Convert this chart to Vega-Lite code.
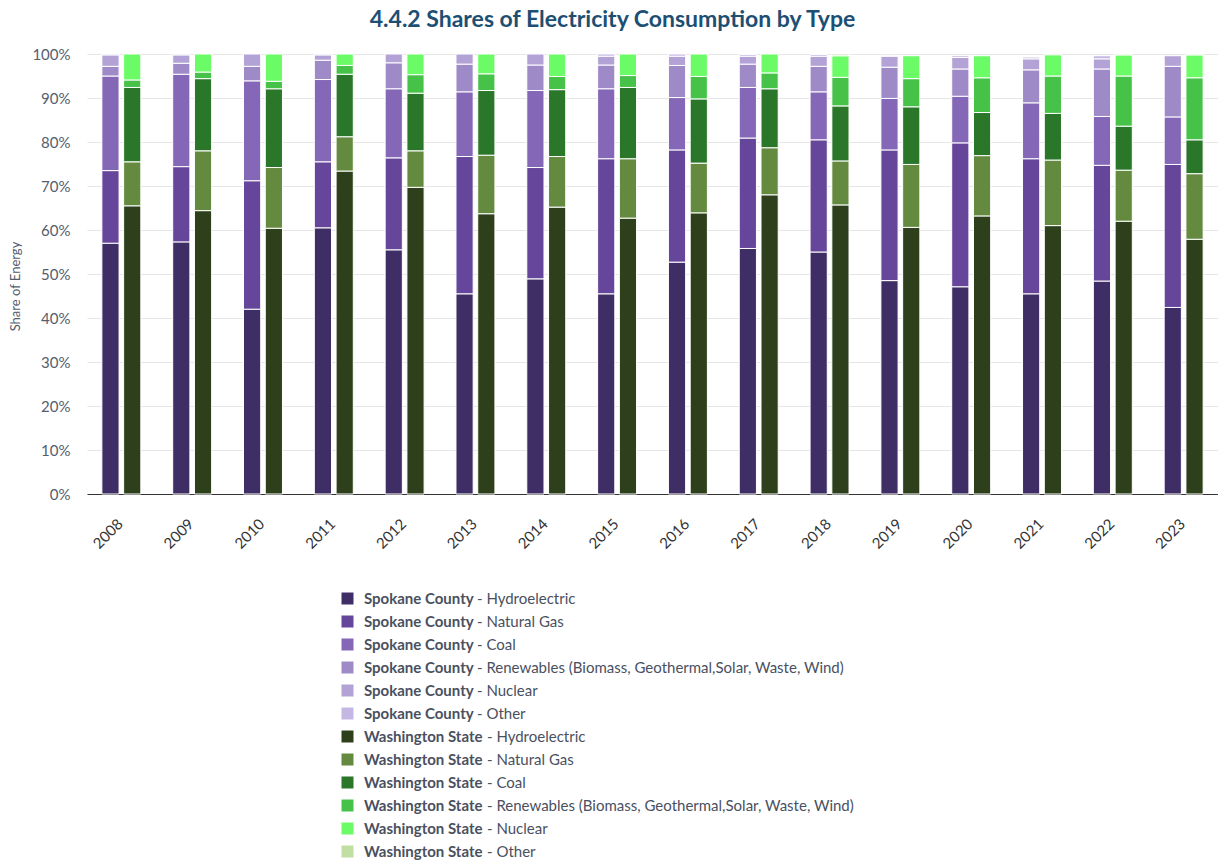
{
  "$schema": "https://vega.github.io/schema/vega-lite/v6.json",
  "width": 1131,
  "height": 440,
  "autosize": {"type": "none"},
  "padding": {"left": 87, "top": 54, "right": 0, "bottom": 370},
  "background": "white",
  "config": {
    "font": "Lato",
    "view": {"stroke": null}
  },
  "title": {
    "text": "4.4.2 Shares of Electricity Consumption by Type",
    "fontSize": 23,
    "fontWeight": "bold",
    "color": "#1d4f73",
    "font": "Lato",
    "anchor": "middle",
    "dx": -40,
    "offset": 15
  },
  "datasets": {
    "stackOrder": [
      {"type": "Hydroelectric", "rank": 1},
      {"type": "Natural Gas", "rank": 2},
      {"type": "Coal", "rank": 3},
      {"type": "Renewables (Biomass, Geothermal,Solar, Waste, Wind)", "rank": 4},
      {"type": "Nuclear", "rank": 5},
      {"type": "Other", "rank": 6}
    ]
  },
  "data": {
    "values": [
      {"year": "2008", "region": "Spokane County", "type": "Hydroelectric", "share": 57.0},
      {"year": "2008", "region": "Spokane County", "type": "Natural Gas", "share": 16.5},
      {"year": "2008", "region": "Spokane County", "type": "Coal", "share": 21.5},
      {"year": "2008", "region": "Spokane County", "type": "Renewables (Biomass, Geothermal,Solar, Waste, Wind)", "share": 2.2},
      {"year": "2008", "region": "Spokane County", "type": "Nuclear", "share": 2.6},
      {"year": "2008", "region": "Spokane County", "type": "Other", "share": 0.2},
      {"year": "2008", "region": "Washington State", "type": "Hydroelectric", "share": 65.5},
      {"year": "2008", "region": "Washington State", "type": "Natural Gas", "share": 10.0},
      {"year": "2008", "region": "Washington State", "type": "Coal", "share": 16.9},
      {"year": "2008", "region": "Washington State", "type": "Renewables (Biomass, Geothermal,Solar, Waste, Wind)", "share": 1.7},
      {"year": "2008", "region": "Washington State", "type": "Nuclear", "share": 5.9},

      {"year": "2009", "region": "Spokane County", "type": "Hydroelectric", "share": 57.3},
      {"year": "2009", "region": "Spokane County", "type": "Natural Gas", "share": 17.1},
      {"year": "2009", "region": "Spokane County", "type": "Coal", "share": 21.0},
      {"year": "2009", "region": "Spokane County", "type": "Renewables (Biomass, Geothermal,Solar, Waste, Wind)", "share": 2.5},
      {"year": "2009", "region": "Spokane County", "type": "Nuclear", "share": 1.9},
      {"year": "2009", "region": "Spokane County", "type": "Other", "share": 0.2},
      {"year": "2009", "region": "Washington State", "type": "Hydroelectric", "share": 64.4},
      {"year": "2009", "region": "Washington State", "type": "Natural Gas", "share": 13.6},
      {"year": "2009", "region": "Washington State", "type": "Coal", "share": 16.4},
      {"year": "2009", "region": "Washington State", "type": "Renewables (Biomass, Geothermal,Solar, Waste, Wind)", "share": 1.5},
      {"year": "2009", "region": "Washington State", "type": "Nuclear", "share": 4.1},

      {"year": "2010", "region": "Spokane County", "type": "Hydroelectric", "share": 42.0},
      {"year": "2010", "region": "Spokane County", "type": "Natural Gas", "share": 29.2},
      {"year": "2010", "region": "Spokane County", "type": "Coal", "share": 22.7},
      {"year": "2010", "region": "Spokane County", "type": "Renewables (Biomass, Geothermal,Solar, Waste, Wind)", "share": 3.3},
      {"year": "2010", "region": "Spokane County", "type": "Nuclear", "share": 2.8},
      {"year": "2010", "region": "Washington State", "type": "Hydroelectric", "share": 60.4},
      {"year": "2010", "region": "Washington State", "type": "Natural Gas", "share": 13.8},
      {"year": "2010", "region": "Washington State", "type": "Coal", "share": 17.9},
      {"year": "2010", "region": "Washington State", "type": "Renewables (Biomass, Geothermal,Solar, Waste, Wind)", "share": 1.7},
      {"year": "2010", "region": "Washington State", "type": "Nuclear", "share": 6.2},

      {"year": "2011", "region": "Spokane County", "type": "Hydroelectric", "share": 60.5},
      {"year": "2011", "region": "Spokane County", "type": "Natural Gas", "share": 15.0},
      {"year": "2011", "region": "Spokane County", "type": "Coal", "share": 18.7},
      {"year": "2011", "region": "Spokane County", "type": "Renewables (Biomass, Geothermal,Solar, Waste, Wind)", "share": 4.4},
      {"year": "2011", "region": "Spokane County", "type": "Nuclear", "share": 1.2},
      {"year": "2011", "region": "Spokane County", "type": "Other", "share": 0.2},
      {"year": "2011", "region": "Washington State", "type": "Hydroelectric", "share": 73.4},
      {"year": "2011", "region": "Washington State", "type": "Natural Gas", "share": 7.8},
      {"year": "2011", "region": "Washington State", "type": "Coal", "share": 14.2},
      {"year": "2011", "region": "Washington State", "type": "Renewables (Biomass, Geothermal,Solar, Waste, Wind)", "share": 2.0},
      {"year": "2011", "region": "Washington State", "type": "Nuclear", "share": 2.6},

      {"year": "2012", "region": "Spokane County", "type": "Hydroelectric", "share": 55.5},
      {"year": "2012", "region": "Spokane County", "type": "Natural Gas", "share": 20.9},
      {"year": "2012", "region": "Spokane County", "type": "Coal", "share": 15.7},
      {"year": "2012", "region": "Spokane County", "type": "Renewables (Biomass, Geothermal,Solar, Waste, Wind)", "share": 5.9},
      {"year": "2012", "region": "Spokane County", "type": "Nuclear", "share": 2.0},
      {"year": "2012", "region": "Washington State", "type": "Hydroelectric", "share": 69.7},
      {"year": "2012", "region": "Washington State", "type": "Natural Gas", "share": 8.3},
      {"year": "2012", "region": "Washington State", "type": "Coal", "share": 13.1},
      {"year": "2012", "region": "Washington State", "type": "Renewables (Biomass, Geothermal,Solar, Waste, Wind)", "share": 4.2},
      {"year": "2012", "region": "Washington State", "type": "Nuclear", "share": 4.7},

      {"year": "2013", "region": "Spokane County", "type": "Hydroelectric", "share": 45.5},
      {"year": "2013", "region": "Spokane County", "type": "Natural Gas", "share": 31.2},
      {"year": "2013", "region": "Spokane County", "type": "Coal", "share": 14.7},
      {"year": "2013", "region": "Spokane County", "type": "Renewables (Biomass, Geothermal,Solar, Waste, Wind)", "share": 6.3},
      {"year": "2013", "region": "Spokane County", "type": "Nuclear", "share": 2.3},
      {"year": "2013", "region": "Washington State", "type": "Hydroelectric", "share": 63.7},
      {"year": "2013", "region": "Washington State", "type": "Natural Gas", "share": 13.3},
      {"year": "2013", "region": "Washington State", "type": "Coal", "share": 14.7},
      {"year": "2013", "region": "Washington State", "type": "Renewables (Biomass, Geothermal,Solar, Waste, Wind)", "share": 3.8},
      {"year": "2013", "region": "Washington State", "type": "Nuclear", "share": 4.5},

      {"year": "2014", "region": "Spokane County", "type": "Hydroelectric", "share": 48.9},
      {"year": "2014", "region": "Spokane County", "type": "Natural Gas", "share": 25.3},
      {"year": "2014", "region": "Spokane County", "type": "Coal", "share": 17.5},
      {"year": "2014", "region": "Spokane County", "type": "Renewables (Biomass, Geothermal,Solar, Waste, Wind)", "share": 5.8},
      {"year": "2014", "region": "Spokane County", "type": "Nuclear", "share": 2.5},
      {"year": "2014", "region": "Washington State", "type": "Hydroelectric", "share": 65.2},
      {"year": "2014", "region": "Washington State", "type": "Natural Gas", "share": 11.5},
      {"year": "2014", "region": "Washington State", "type": "Coal", "share": 15.2},
      {"year": "2014", "region": "Washington State", "type": "Renewables (Biomass, Geothermal,Solar, Waste, Wind)", "share": 3.0},
      {"year": "2014", "region": "Washington State", "type": "Nuclear", "share": 5.1},

      {"year": "2015", "region": "Spokane County", "type": "Hydroelectric", "share": 45.5},
      {"year": "2015", "region": "Spokane County", "type": "Natural Gas", "share": 30.7},
      {"year": "2015", "region": "Spokane County", "type": "Coal", "share": 15.9},
      {"year": "2015", "region": "Spokane County", "type": "Renewables (Biomass, Geothermal,Solar, Waste, Wind)", "share": 5.4},
      {"year": "2015", "region": "Spokane County", "type": "Nuclear", "share": 2.0},
      {"year": "2015", "region": "Spokane County", "type": "Other", "share": 0.5},
      {"year": "2015", "region": "Washington State", "type": "Hydroelectric", "share": 62.7},
      {"year": "2015", "region": "Washington State", "type": "Natural Gas", "share": 13.5},
      {"year": "2015", "region": "Washington State", "type": "Coal", "share": 16.2},
      {"year": "2015", "region": "Washington State", "type": "Renewables (Biomass, Geothermal,Solar, Waste, Wind)", "share": 2.7},
      {"year": "2015", "region": "Washington State", "type": "Nuclear", "share": 4.9},

      {"year": "2016", "region": "Spokane County", "type": "Hydroelectric", "share": 52.7},
      {"year": "2016", "region": "Spokane County", "type": "Natural Gas", "share": 25.5},
      {"year": "2016", "region": "Spokane County", "type": "Coal", "share": 11.9},
      {"year": "2016", "region": "Spokane County", "type": "Renewables (Biomass, Geothermal,Solar, Waste, Wind)", "share": 7.3},
      {"year": "2016", "region": "Spokane County", "type": "Nuclear", "share": 2.1},
      {"year": "2016", "region": "Spokane County", "type": "Other", "share": 0.5},
      {"year": "2016", "region": "Washington State", "type": "Hydroelectric", "share": 63.9},
      {"year": "2016", "region": "Washington State", "type": "Natural Gas", "share": 11.3},
      {"year": "2016", "region": "Washington State", "type": "Coal", "share": 14.6},
      {"year": "2016", "region": "Washington State", "type": "Renewables (Biomass, Geothermal,Solar, Waste, Wind)", "share": 5.1},
      {"year": "2016", "region": "Washington State", "type": "Nuclear", "share": 5.1},

      {"year": "2017", "region": "Spokane County", "type": "Hydroelectric", "share": 55.8},
      {"year": "2017", "region": "Spokane County", "type": "Natural Gas", "share": 25.1},
      {"year": "2017", "region": "Spokane County", "type": "Coal", "share": 11.5},
      {"year": "2017", "region": "Spokane County", "type": "Renewables (Biomass, Geothermal,Solar, Waste, Wind)", "share": 5.3},
      {"year": "2017", "region": "Spokane County", "type": "Nuclear", "share": 1.8},
      {"year": "2017", "region": "Spokane County", "type": "Other", "share": 0.4},
      {"year": "2017", "region": "Washington State", "type": "Hydroelectric", "share": 68.0},
      {"year": "2017", "region": "Washington State", "type": "Natural Gas", "share": 10.7},
      {"year": "2017", "region": "Washington State", "type": "Coal", "share": 13.4},
      {"year": "2017", "region": "Washington State", "type": "Renewables (Biomass, Geothermal,Solar, Waste, Wind)", "share": 3.6},
      {"year": "2017", "region": "Washington State", "type": "Nuclear", "share": 4.3},

      {"year": "2018", "region": "Spokane County", "type": "Hydroelectric", "share": 55.0},
      {"year": "2018", "region": "Spokane County", "type": "Natural Gas", "share": 25.5},
      {"year": "2018", "region": "Spokane County", "type": "Coal", "share": 10.9},
      {"year": "2018", "region": "Spokane County", "type": "Renewables (Biomass, Geothermal,Solar, Waste, Wind)", "share": 5.8},
      {"year": "2018", "region": "Spokane County", "type": "Nuclear", "share": 2.3},
      {"year": "2018", "region": "Spokane County", "type": "Other", "share": 0.4},
      {"year": "2018", "region": "Washington State", "type": "Hydroelectric", "share": 65.7},
      {"year": "2018", "region": "Washington State", "type": "Natural Gas", "share": 10.0},
      {"year": "2018", "region": "Washington State", "type": "Coal", "share": 12.5},
      {"year": "2018", "region": "Washington State", "type": "Renewables (Biomass, Geothermal,Solar, Waste, Wind)", "share": 6.5},
      {"year": "2018", "region": "Washington State", "type": "Nuclear", "share": 4.9},
      {"year": "2018", "region": "Washington State", "type": "Other", "share": 0.4},

      {"year": "2019", "region": "Spokane County", "type": "Hydroelectric", "share": 48.5},
      {"year": "2019", "region": "Spokane County", "type": "Natural Gas", "share": 29.7},
      {"year": "2019", "region": "Spokane County", "type": "Coal", "share": 11.7},
      {"year": "2019", "region": "Spokane County", "type": "Renewables (Biomass, Geothermal,Solar, Waste, Wind)", "share": 7.1},
      {"year": "2019", "region": "Spokane County", "type": "Nuclear", "share": 2.5},
      {"year": "2019", "region": "Spokane County", "type": "Other", "share": 0.2},
      {"year": "2019", "region": "Washington State", "type": "Hydroelectric", "share": 60.6},
      {"year": "2019", "region": "Washington State", "type": "Natural Gas", "share": 14.3},
      {"year": "2019", "region": "Washington State", "type": "Coal", "share": 13.1},
      {"year": "2019", "region": "Washington State", "type": "Renewables (Biomass, Geothermal,Solar, Waste, Wind)", "share": 6.4},
      {"year": "2019", "region": "Washington State", "type": "Nuclear", "share": 5.2},

      {"year": "2020", "region": "Spokane County", "type": "Hydroelectric", "share": 47.1},
      {"year": "2020", "region": "Spokane County", "type": "Natural Gas", "share": 32.7},
      {"year": "2020", "region": "Spokane County", "type": "Coal", "share": 10.6},
      {"year": "2020", "region": "Spokane County", "type": "Renewables (Biomass, Geothermal,Solar, Waste, Wind)", "share": 6.2},
      {"year": "2020", "region": "Spokane County", "type": "Nuclear", "share": 2.6},
      {"year": "2020", "region": "Spokane County", "type": "Other", "share": 0.4},
      {"year": "2020", "region": "Washington State", "type": "Hydroelectric", "share": 63.2},
      {"year": "2020", "region": "Washington State", "type": "Natural Gas", "share": 13.7},
      {"year": "2020", "region": "Washington State", "type": "Coal", "share": 9.8},
      {"year": "2020", "region": "Washington State", "type": "Renewables (Biomass, Geothermal,Solar, Waste, Wind)", "share": 7.9},
      {"year": "2020", "region": "Washington State", "type": "Nuclear", "share": 5.0},

      {"year": "2021", "region": "Spokane County", "type": "Hydroelectric", "share": 45.5},
      {"year": "2021", "region": "Spokane County", "type": "Natural Gas", "share": 30.7},
      {"year": "2021", "region": "Spokane County", "type": "Coal", "share": 12.7},
      {"year": "2021", "region": "Spokane County", "type": "Renewables (Biomass, Geothermal,Solar, Waste, Wind)", "share": 7.5},
      {"year": "2021", "region": "Spokane County", "type": "Nuclear", "share": 2.5},
      {"year": "2021", "region": "Spokane County", "type": "Other", "share": 0.4},
      {"year": "2021", "region": "Washington State", "type": "Hydroelectric", "share": 61.0},
      {"year": "2021", "region": "Washington State", "type": "Natural Gas", "share": 14.9},
      {"year": "2021", "region": "Washington State", "type": "Coal", "share": 10.6},
      {"year": "2021", "region": "Washington State", "type": "Renewables (Biomass, Geothermal,Solar, Waste, Wind)", "share": 8.5},
      {"year": "2021", "region": "Washington State", "type": "Nuclear", "share": 4.8},

      {"year": "2022", "region": "Spokane County", "type": "Hydroelectric", "share": 48.4},
      {"year": "2022", "region": "Spokane County", "type": "Natural Gas", "share": 26.3},
      {"year": "2022", "region": "Spokane County", "type": "Coal", "share": 11.1},
      {"year": "2022", "region": "Spokane County", "type": "Renewables (Biomass, Geothermal,Solar, Waste, Wind)", "share": 10.8},
      {"year": "2022", "region": "Spokane County", "type": "Nuclear", "share": 2.3},
      {"year": "2022", "region": "Spokane County", "type": "Other", "share": 0.7},
      {"year": "2022", "region": "Washington State", "type": "Hydroelectric", "share": 62.0},
      {"year": "2022", "region": "Washington State", "type": "Natural Gas", "share": 11.6},
      {"year": "2022", "region": "Washington State", "type": "Coal", "share": 10.0},
      {"year": "2022", "region": "Washington State", "type": "Renewables (Biomass, Geothermal,Solar, Waste, Wind)", "share": 11.4},
      {"year": "2022", "region": "Washington State", "type": "Nuclear", "share": 4.8},
      {"year": "2022", "region": "Washington State", "type": "Other", "share": 0.2},

      {"year": "2023", "region": "Spokane County", "type": "Hydroelectric", "share": 42.4},
      {"year": "2023", "region": "Spokane County", "type": "Natural Gas", "share": 32.5},
      {"year": "2023", "region": "Spokane County", "type": "Coal", "share": 10.8},
      {"year": "2023", "region": "Spokane County", "type": "Renewables (Biomass, Geothermal,Solar, Waste, Wind)", "share": 11.5},
      {"year": "2023", "region": "Spokane County", "type": "Nuclear", "share": 2.4},
      {"year": "2023", "region": "Washington State", "type": "Hydroelectric", "share": 57.9},
      {"year": "2023", "region": "Washington State", "type": "Natural Gas", "share": 14.9},
      {"year": "2023", "region": "Washington State", "type": "Coal", "share": 7.7},
      {"year": "2023", "region": "Washington State", "type": "Renewables (Biomass, Geothermal,Solar, Waste, Wind)", "share": 14.1},
      {"year": "2023", "region": "Washington State", "type": "Nuclear", "share": 5.2},
      {"year": "2023", "region": "Washington State", "type": "Other", "share": 0.2}
    ]
  },
  "transform": [
    {
      "lookup": "type",
      "from": {"data": {"name": "stackOrder"}, "key": "type", "fields": ["rank", "type"]},
      "as": ["rank", "typeName"]
    }
  ],
  "encoding": {
    "x": {
      "field": "year",
      "type": "ordinal",
      "title": null,
      "scale": {"paddingInner": 0.45, "paddingOuter": 0.21},
      "axis": {
        "labelAngle": -45,
        "labelAlign": "right",
        "labelBaseline": "middle",
        "labelFontSize": 15,
        "labelColor": "#333333",
        "labelPadding": 27,
        "labelOffset": -1,
        "ticks": false,
        "domainColor": "#333333",
        "domainWidth": 1
      }
    },
    "xOffset": {
      "field": "region",
      "type": "nominal",
      "scale": {"domain": ["Spokane County", "Washington State"], "paddingInner": 0.21, "paddingOuter": 0}
    },
    "y": {
      "field": "share",
      "type": "quantitative",
      "stack": "zero",
      "title": "Share of Energy",
      "scale": {"domain": [0, 100], "nice": false},
      "axis": {
        "values": [0, 10, 20, 30, 40, 50, 60, 70, 80, 90, 100],
        "labelExpr": "datum.value + '%'",
        "labelFontSize": 15,
        "labelColor": "#555d6e",
        "labelPadding": 17,
        "ticks": false,
        "domain": false,
        "gridColor": "#e6e6e6",
        "titleFontSize": 13,
        "titleFontWeight": "normal",
        "titleColor": "#555d6e",
        "titlePadding": 9,
        "titleY": 232
      }
    },
    "order": {"field": "rank", "type": "quantitative", "sort": "ascending"}
  },
  "layer": [
    {
      "transform": [{"filter": "datum.region === 'Spokane County'"}],
      "mark": {"type": "bar", "stroke": "white", "strokeWidth": 1},
      "encoding": {
        "color": {
          "field": "type",
          "type": "nominal",
          "scale": {
            "domain": ["Hydroelectric", "Natural Gas", "Coal", "Renewables (Biomass, Geothermal,Solar, Waste, Wind)", "Nuclear", "Other"],
            "range": ["#3f2e66", "#65469b", "#8467b6", "#9f8ac8", "#b2a2d6", "#c4b7e3"]
          },
          "legend": {
            "orient": "none",
            "legendX": 253,
            "legendY": 537,
            "direction": "vertical",
            "title": null,
            "symbolType": "square",
            "symbolSize": 144,
            "symbolStrokeWidth": 0,
            "labelExpr": "'Spokane County'",
            "labelFontSize": 15,
            "labelFontWeight": "bold",
            "labelColor": "#4a5060",
            "labelOffset": 9,
            "labelLimit": 0,
            "rowPadding": 7
          }
        },
        "opacity": {
          "field": "typeName",
          "type": "nominal",
          "sort": ["Hydroelectric", "Natural Gas", "Coal", "Renewables (Biomass, Geothermal,Solar, Waste, Wind)", "Nuclear", "Other"],
          "scale": {"type": "ordinal", "range": [1, 1, 1, 1, 1, 1]},
          "legend": {
            "orient": "none",
            "legendX": 375,
            "legendY": 537,
            "direction": "vertical",
            "title": null,
            "symbolSize": 0,
            "symbolStrokeWidth": 0,
            "labelExpr": "'- ' + datum.label",
            "labelFontSize": 15,
            "labelColor": "#4a5060",
            "labelOffset": 0,
            "labelLimit": 0,
            "rowPadding": 7
          }
        }
      }
    },
    {
      "transform": [{"filter": "datum.region === 'Washington State'"}],
      "mark": {"type": "bar", "stroke": "white", "strokeWidth": 1},
      "encoding": {
        "color": {
          "field": "type",
          "type": "nominal",
          "scale": {
            "domain": ["Hydroelectric", "Natural Gas", "Coal", "Renewables (Biomass, Geothermal,Solar, Waste, Wind)", "Nuclear", "Other"],
            "range": ["#2e3f1b", "#638a3e", "#2b772a", "#47c248", "#6afb66", "#c2dfa3"]
          },
          "legend": {
            "orient": "none",
            "legendX": 253,
            "legendY": 675,
            "direction": "vertical",
            "title": null,
            "symbolType": "square",
            "symbolSize": 144,
            "symbolStrokeWidth": 0,
            "labelExpr": "'Washington State'",
            "labelFontSize": 15,
            "labelFontWeight": "bold",
            "labelColor": "#4a5060",
            "labelOffset": 9,
            "labelLimit": 0,
            "rowPadding": 7
          }
        },
        "opacity": {
          "field": "typeName",
          "type": "nominal",
          "sort": ["Hydroelectric", "Natural Gas", "Coal", "Renewables (Biomass, Geothermal,Solar, Waste, Wind)", "Nuclear", "Other"],
          "scale": {"type": "ordinal", "range": [1, 1, 1, 1, 1, 1]},
          "legend": {
            "orient": "none",
            "legendX": 385,
            "legendY": 675,
            "direction": "vertical",
            "title": null,
            "symbolSize": 0,
            "symbolStrokeWidth": 0,
            "labelExpr": "'- ' + datum.label",
            "labelFontSize": 15,
            "labelColor": "#4a5060",
            "labelOffset": 0,
            "labelLimit": 0,
            "rowPadding": 7
          }
        }
      }
    }
  ],
  "resolve": {
    "scale": {"color": "independent", "opacity": "independent"}
  }
}
